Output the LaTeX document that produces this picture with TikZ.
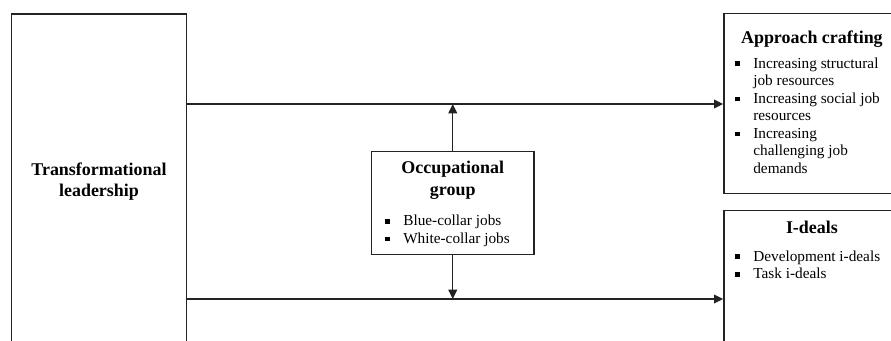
\documentclass[tikz,border=0pt]{standalone}
\usepackage{fontspec}
\setmainfont{Liberation Serif}
\usetikzlibrary{arrows.meta,positioning}
\definecolor{figLine}{RGB}{35,35,35}
\newcommand{\headfont}{\fontsize{13.5}{16.5}\selectfont\bfseries}
\newcommand{\listfont}{\fontsize{11.5}{13.2}\selectfont}
\newcommand{\sqbul}{\rule[0.3ex]{3.6pt}{3.6pt}}

\begin{document}
\begin{tikzpicture}[
    frame/.style={draw=figLine,line width=0.9pt,anchor=north west,inner sep=0pt},
    head/.style={font=\headfont,align=center,inner sep=0pt,anchor=north},
    list/.style={font=\listfont,inner sep=0pt,anchor=north west},
    arr/.style={-{Triangle[length=7pt,width=6.5pt]},line width=1.1pt,draw=figLine}
  ]
  \useasboundingbox (0,0) rectangle (23.574,-8.996);
  \clip (0,0) rectangle (23.574,-8.996);

  % boxes
  \node[frame,minimum width=4.651cm,minimum height=8.863cm,font=\headfont,align=center] (lead) at (0.278,-0.357) {Transformational\\leadership};
  \node[frame,minimum width=4.657cm,minimum height=4.754cm] (appr) at (19.137,-0.352) {};
  \node[frame,minimum width=4.657cm,minimum height=5cm] (ideal) at (19.137,-5.556) {};
  \node[frame,minimum width=4.294cm,minimum height=2.733cm] (occ) at (9.816,-3.987) {};

  % texts
  \node[head,below=0.46cm of appr.north] (apprhead) {Approach crafting};
  \node[list] (apprlist) at ([xshift=0.31cm,yshift=-1.124cm]appr.north west) {%
    \begin{tabular}{@{}l@{\hspace{10pt}}l@{}}
      \sqbul & Increasing structural\\
             & job resources\\
      \sqbul & Increasing social job\\
             & resources\\
      \sqbul & Increasing\\
             & challenging job\\
             & demands
    \end{tabular}};
  \node[head,below=0.29cm of ideal.north] (idealhead) {I-deals};
  \node[list] (ideallist) at ([xshift=0.31cm,yshift=-1.027cm]ideal.north west) {%
    \begin{tabular}{@{}l@{\hspace{10pt}}l@{}}
      \sqbul & Development i-deals\\
      \sqbul & Task i-deals
    \end{tabular}};
  \node[head,below=0.28cm of occ.north] (occhead) {Occupational\\group};
  \node[list] (occlist) at ([xshift=0.37cm,yshift=-1.66cm]occ.north west) {%
    \begin{tabular}{@{}l@{\hspace{10pt}}l@{}}
      \sqbul & Blue-collar jobs\\
      \sqbul & White-collar jobs
    \end{tabular}};

  % arrows
  \coordinate (upy) at (0,-2.752);
  \coordinate (lowy) at (0,-7.911);
  \draw[arr] (lead.east |- upy) -- (appr.west |- upy);
  \draw[arr] (lead.east |- lowy) -- (ideal.west |- lowy);
  \draw[arr] (occ.north) -- (occ.north |- upy);
  \draw[arr] (occ.south) -- (occ.south |- lowy);
\end{tikzpicture}
\end{document}
